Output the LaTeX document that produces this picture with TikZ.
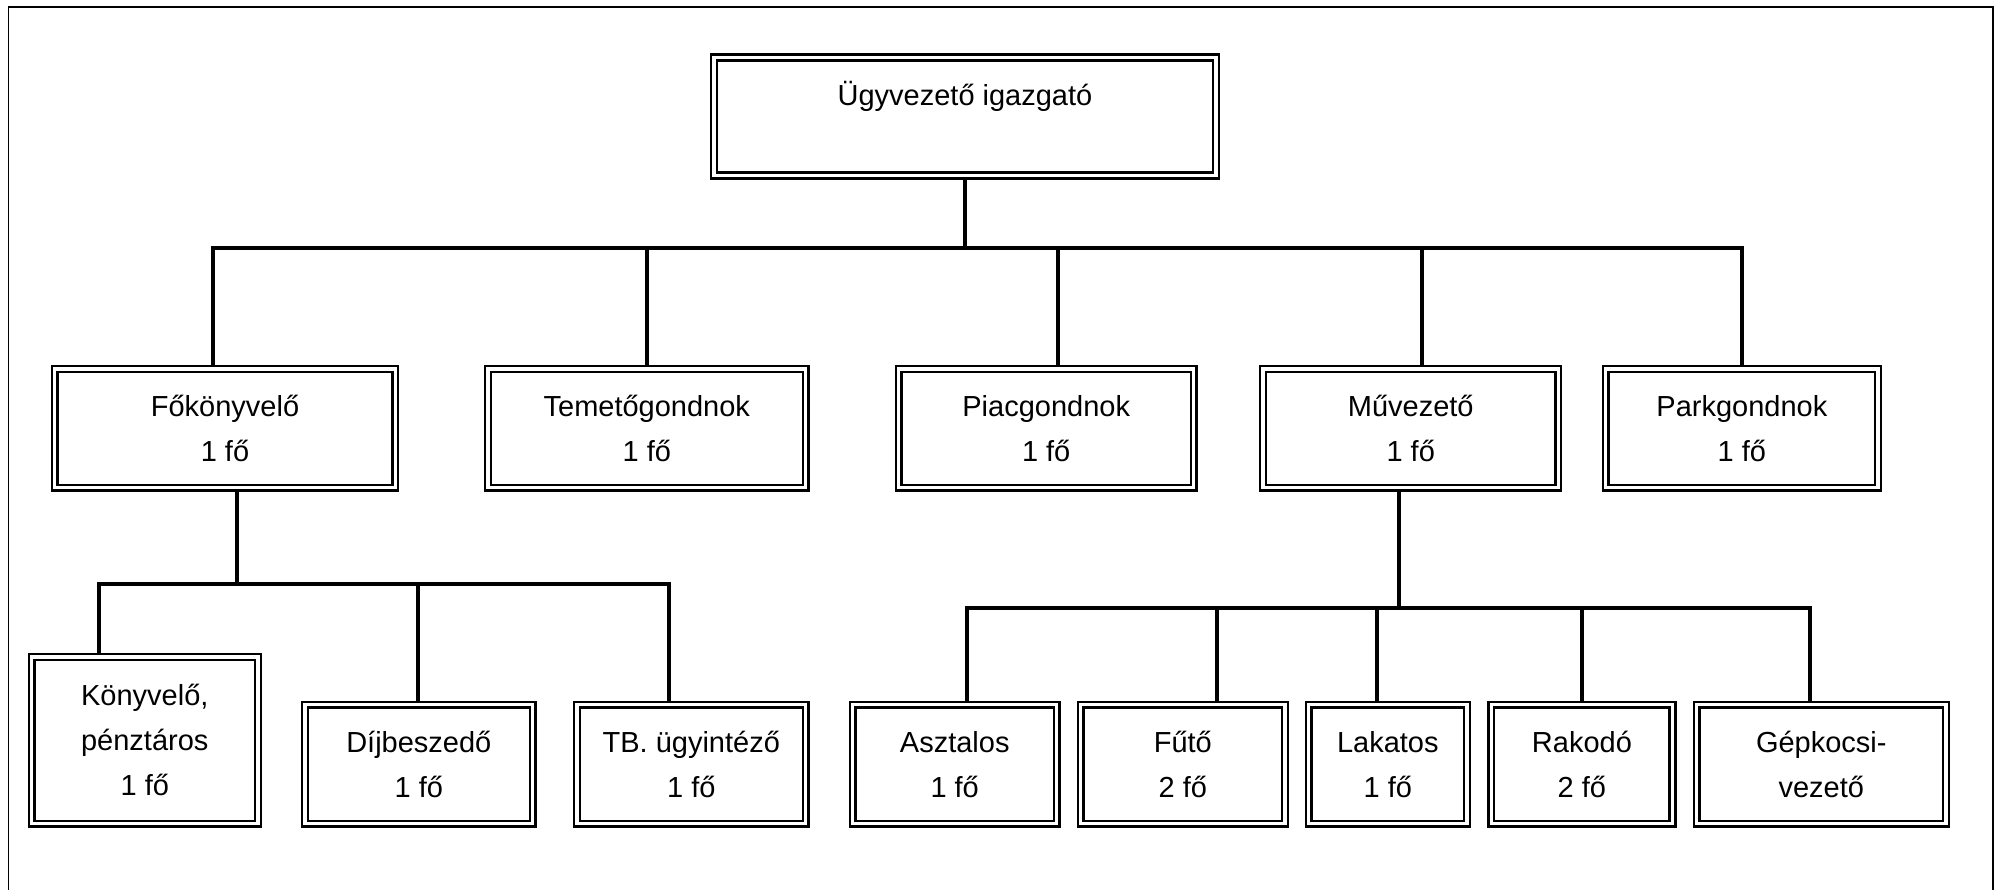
\documentclass[tikz,border=0pt]{standalone}
\usepackage{fontspec}
\setmainfont{Liberation Sans}

\tikzset{
  post/.style={draw, double, double distance=3.4pt, line width=2.4pt,
    outer sep=4pt, inner sep=0pt, align=center,
    font=\fontsize{29}{45}\selectfont},
  lvltwo/.style={post, minimum height=118.7pt},
  lvlthree/.style={post, minimum height=119pt},
  link/.style={line width=4pt},
  frame/.style={line width=1.6pt}
}

\begin{document}
\begin{tikzpicture}[x=1pt, y=-1pt]
\useasboundingbox (0,0) rectangle (1996,890);
\draw[frame] (8.3,890) -- (8.3,7.3) -- (1992.7,7.3) -- (1992.7,890);

% top
\node[post, minimum width=502pt, minimum height=118pt] (ugyv) at (965,116.5) {Ügyvezető igazgató\\\phantom{1 fő}};

% second level
\node[lvltwo, minimum width=340.6pt] (fokonyv) at (225,428.3) {Főkönyvelő\\1 fő};
\node[lvltwo, minimum width=317.6pt] (temeto) at (646.8,428.3) {Temetőgondnok\\1 fő};
\node[lvltwo, minimum width=295pt] (piac) at (1046.2,428.3) {Piacgondnok\\1 fő};
\node[lvltwo, minimum width=295.3pt] (muvez) at (1410.7,428.3) {Művezető\\1 fő};
\node[lvltwo, minimum width=272.3pt] (park) at (1741.9,428.3) {Parkgondnok\\1 fő};

% third level
\node[post, minimum width=226.3pt, minimum height=166.7pt] (konyv) at (144.8,740.3) {Könyvelő,\\pénztáros\\1 fő};
\node[lvlthree, minimum width=227.7pt] (dij) at (418.8,764.2) {Díjbeszedő\\1 fő};
\node[lvlthree, minimum width=228.6pt] (tb) at (691.3,764.2) {TB. ügyintéző\\1 fő};
\node[lvlthree, minimum width=204pt] (aszt) at (954.7,764.2) {Asztalos\\1 fő};
\node[lvlthree, minimum width=204.3pt] (futo) at (1182.8,764.2) {Fűtő\\2 fő};
\node[lvlthree, minimum width=158.3pt] (lakat) at (1387.8,764.2) {Lakatos\\1 fő};
\node[lvlthree, minimum width=181.2pt] (rakodo) at (1581.9,764.2) {Rakodó\\2 fő};
\node[lvlthree, minimum width=249.3pt] (gepk) at (1821.3,764.2) {Gépkocsi-\\vezető};

% bus junctions
\coordinate (j1) at (213.3,248.3);
\coordinate (j2) at (646.7,248.3);
\coordinate (j3) at (1057.6,248.3);
\coordinate (j4) at (1421.7,248.3);
\coordinate (j5) at (1741.7,248.3);

\coordinate (k0) at (236.7,584);
\coordinate (k1) at (99.3,584);
\coordinate (k2) at (418.3,584);
\coordinate (k3) at (669.3,584);

\coordinate (m0) at (1399.3,608);
\coordinate (m1) at (966.7,608);
\coordinate (m2) at (1216.7,608);
\coordinate (m3) at (1376.7,608);
\coordinate (m4) at (1582,608);
\coordinate (m5) at (1810,608);

% connectors
\draw[link] (ugyv.south) -- (ugyv.south |- j1);
\draw[link] (fokonyv.north -| j1) -- (j1) -- (j5) -- (park.north -| j5);
\draw[link] (j2) -- (temeto.north -| j2);
\draw[link] (j3) -- (piac.north -| j3);
\draw[link] (j4) -- (muvez.north -| j4);

\draw[link] (fokonyv.south -| k0) -- (k0);
\draw[link] (konyv.north -| k1) -- (k1) -- (k3) -- (tb.north -| k3);
\draw[link] (k2) -- (dij.north -| k2);

\draw[link] (muvez.south -| m0) -- (m0);
\draw[link] (aszt.north -| m1) -- (m1) -- (m5) -- (gepk.north -| m5);
\draw[link] (m2) -- (futo.north -| m2);
\draw[link] (m3) -- (lakat.north -| m3);
\draw[link] (m4) -- (rakodo.north -| m4);
\end{tikzpicture}
\end{document}
